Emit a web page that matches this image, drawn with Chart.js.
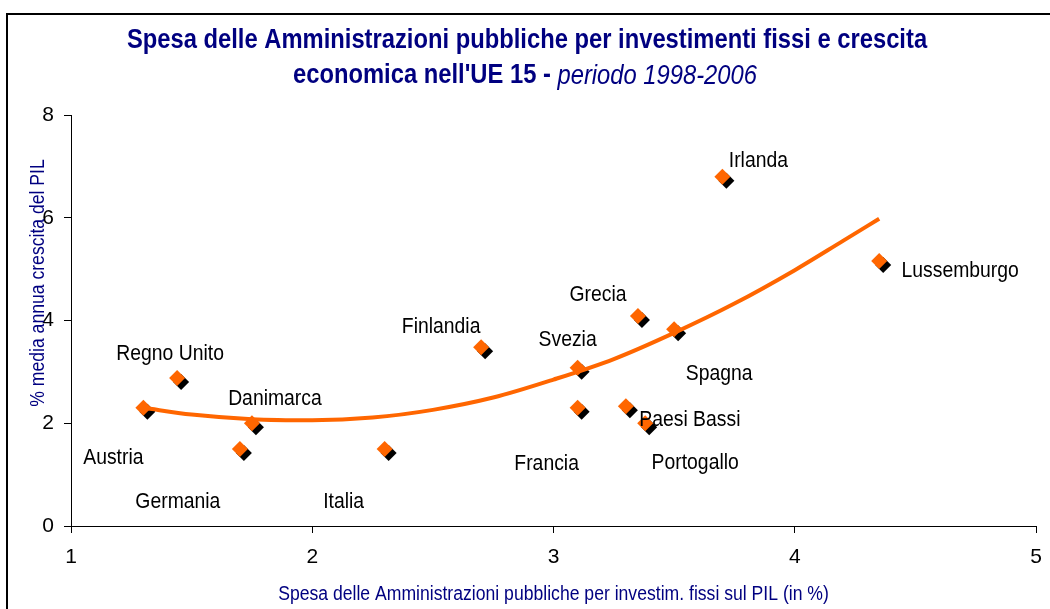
<!DOCTYPE html>
<html>
<head>
<meta charset="utf-8">
<script src="https://cdn.jsdelivr.net/npm/chart.js@4"></script>
<style>
  html, body { margin: 0; padding: 0; background: #fff; }
  #wrap { width: 1050px; height: 609px; position: relative; }
</style>
</head>
<body>
<div id="wrap"><canvas id="chart" width="1050" height="609"></canvas></div>
<script>
// dati
const paesi = ['Austria', 'Regno Unito', 'Danimarca', 'Germania', 'Italia', 'Finlandia', 'Svezia',
               'Francia', 'Grecia', 'Spagna', 'Paesi Bassi', 'Portogallo', 'Irlanda', 'Lussemburgo'];
const spesaInvestimenti = [1.30, 1.44, 1.75, 1.70, 2.30, 2.70, 3.10, 3.10, 3.35, 3.50, 3.30, 3.38, 3.70, 4.35];
const crescitaPil = [2.30, 2.88, 2.00, 1.50, 1.50, 3.48, 3.08, 2.30, 4.09, 3.83, 2.33, 2.00, 6.80, 5.16];

// linea di tendenza
const tendenzaX = [1.30, 1.50, 1.75, 2.00, 2.25, 2.50, 2.75, 3.00, 3.25, 3.50, 3.75, 4.00, 4.20, 4.35];
const tendenzaY = [2.30, 2.17, 2.08, 2.06, 2.11, 2.26, 2.50, 2.85, 3.25, 3.76, 4.33, 4.98, 5.55, 5.98];

const xTicks = [1, 2, 3, 4, 5];
const yTicks = [0, 2, 4, 6, 8];

const titolo1 = 'Spesa delle Amministrazioni pubbliche per investimenti fissi e crescita';
const titolo2a = "economica nell'UE 15 - ";
const titolo2b = 'periodo 1998-2006';
const titoloX = 'Spesa delle Amministrazioni pubbliche per investim. fissi sul PIL (in %)';
const titoloY = '% media annua crescita del PIL';

// spostamento delle etichette rispetto al punto (px)
const spostamenti = {
    'Austria': [-30, 50], 'Regno Unito': [-7, -24], 'Danimarca': [23, -24], 'Germania': [-62, 53],
    'Italia': [-41, 53], 'Finlandia': [-40, -20], 'Svezia': [-10, -28], 'Francia': [-31, 56],
    'Grecia': [-40, -21], 'Spagna': [45, 45], 'Paesi Bassi': [64, 14], 'Portogallo': [50, 40],
    'Irlanda': [36, -16], 'Lussemburgo': [81, 10]
};

const FONT = "'Liberation Sans', Arial, sans-serif";
const NAVY = '#000080';
const ARANCIO = '#FF6600';
const STRETTO = 0.88; // il testo originale è più stretto

function testo(ctx, str, x, y, font, colore, align, ruota) {
    ctx.save();
    ctx.font = font;
    ctx.fillStyle = colore;
    ctx.textBaseline = 'middle';
    ctx.textAlign = align || 'center';
    ctx.translate(x, y);
    if (ruota) ctx.rotate(ruota);
    ctx.scale(STRETTO, 1);
    ctx.fillText(str, 0, 0);
    ctx.restore();
}

// cornice, titoli ed etichette
const decorazioni = {
    id: 'decorazioni',
    beforeDraw(chart) {
        const ctx = chart.ctx;
        ctx.save();
        ctx.fillStyle = '#fff';
        ctx.fillRect(0, 0, chart.width, chart.height);
        ctx.strokeStyle = '#000';
        ctx.lineWidth = 2;
        ctx.beginPath();
        ctx.moveTo(7, chart.height);
        ctx.lineTo(7, 14);
        ctx.lineTo(chart.width, 14);
        ctx.stroke();
        ctx.restore();
    },
    afterDraw(chart) {
        const ctx = chart.ctx;
        const area = chart.chartArea;
        const cx = (area.left + area.right) / 2;

        testo(ctx, titolo1, 527, 41, 'bold 27px ' + FONT, NAVY, 'center');
        // seconda riga: grassetto + corsivo
        const fB = 'bold 27px ' + FONT, fI = 'italic 27px ' + FONT;
        ctx.save();
        ctx.font = fB; const wa = ctx.measureText(titolo2a).width * STRETTO;
        ctx.font = fI; const wb = ctx.measureText(titolo2b).width * STRETTO;
        ctx.restore();
        const x0 = 525 - (wa + wb) / 2;
        testo(ctx, titolo2a, x0, 76, fB, NAVY, 'left');
        testo(ctx, titolo2b, x0 + wa, 76, fI, NAVY, 'left');

        testo(ctx, titoloX, cx, 594, '20px ' + FONT, NAVY, 'center');
        testo(ctx, titoloY, 38, 283, '20px ' + FONT, NAVY, 'center', -Math.PI / 2);

        const xs = chart.scales.x, ys = chart.scales.y;
        paesi.forEach((p, i) => {
            const px = xs.getPixelForValue(spesaInvestimenti[i]);
            const py = ys.getPixelForValue(crescitaPil[i]);
            const d = spostamenti[p];
            testo(ctx, p, px + d[0], py + d[1], '22px ' + FONT, '#000', 'center');
        });
    }
};

// ombra nera dei marcatori
const ombra = {
    id: 'ombra',
    beforeDatasetDraw(chart, args) {
        if (args.index !== 1) return;
        const ctx = chart.ctx;
        ctx.save();
        ctx.shadowColor = '#000';
        ctx.shadowOffsetX = 4;
        ctx.shadowOffsetY = 4;
        ctx.shadowBlur = 0;
    },
    afterDatasetDraw(chart, args) {
        if (args.index !== 1) return;
        chart.ctx.restore();
    }
};

const ctx = document.getElementById('chart').getContext('2d');
new Chart(ctx, {
    type: 'scatter',
    data: {
        datasets: [{
            type: 'line',
            label: 'Tendenza',
            data: tendenzaX.map((x, i) => ({ x: x, y: tendenzaY[i] })),
            borderColor: ARANCIO,
            borderWidth: 4,
            pointRadius: 0,
            fill: false,
            tension: 0.4,
            cubicInterpolationMode: 'monotone',
            order: 1
        }, {
            label: 'Paesi',
            data: spesaInvestimenti.map((x, i) => ({ x: x, y: crescitaPil[i] })),
            pointStyle: 'rectRot',
            pointRadius: 8,
            pointBorderWidth: 0,
            backgroundColor: ARANCIO,
            borderColor: ARANCIO,
            order: 2
        }]
    },
    options: {
        responsive: false,
        animation: false,
        devicePixelRatio: 1,
        layout: { padding: { left: 0, top: 115, right: 14, bottom: 0 } },
        plugins: {
            legend: { display: false },
            title: { display: false },
            tooltip: { enabled: false }
        },
        scales: {
            x: {
                type: 'linear',
                min: 1, max: 5,
                afterBuildTicks: s => { s.ticks = xTicks.map(v => ({ value: v })); },
                ticks: { color: '#000', font: { family: FONT, size: 21 }, padding: 12, maxRotation: 0 },
                grid: { drawOnChartArea: false, drawTicks: true, tickLength: 7, color: '#000' },
                border: { display: true, color: '#000', width: 1 },
                afterFit: s => { s.height = 83; s.paddingLeft = 0; s.paddingRight = 0; }
            },
            y: {
                type: 'linear',
                min: 0, max: 8,
                afterBuildTicks: s => { s.ticks = yTicks.map(v => ({ value: v })); },
                ticks: { color: '#000', font: { family: FONT, size: 21 }, padding: 10 },
                grid: { drawOnChartArea: false, drawTicks: true, tickLength: 7, color: '#000' },
                border: { display: true, color: '#000', width: 1 },
                afterFit: s => { s.width = 71; }
            }
        }
    },
    plugins: [decorazioni, ombra]
});
</script>
</body>
</html>
